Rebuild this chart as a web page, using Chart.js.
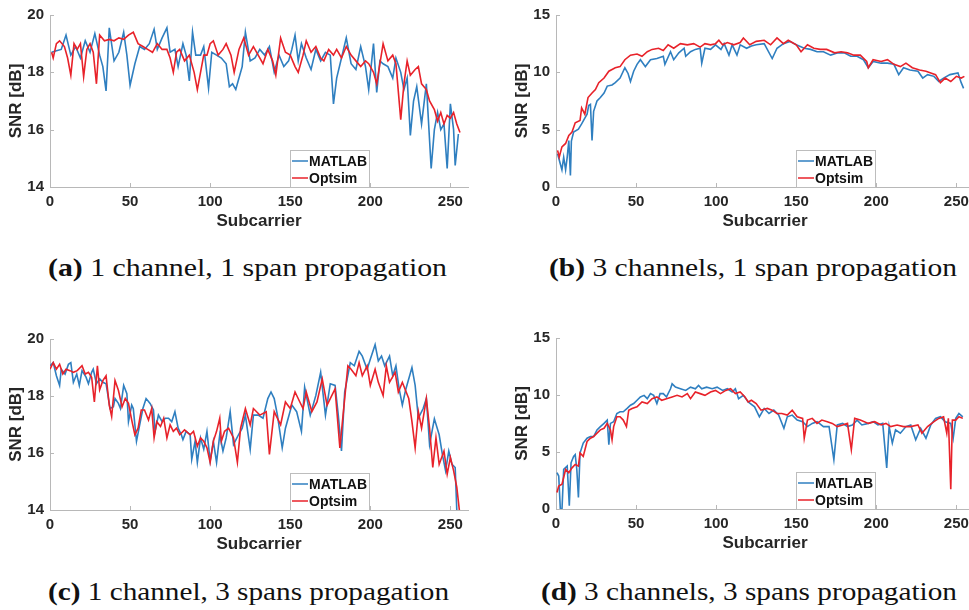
<!DOCTYPE html>
<html><head><meta charset="utf-8">
<script src="https://cdn.jsdelivr.net/npm/chart.js@4.4.0/dist/chart.umd.min.js"></script>
<style>
html,body{margin:0;padding:0;background:#fff;overflow:hidden;width:969px;height:610px;position:relative;}
canvas{position:absolute;}
.cap{position:absolute;font-family:"Liberation Serif","Times New Roman",Tinos,serif;font-size:25px;line-height:28px;color:#111;white-space:nowrap;transform-origin:0 50%;}
</style></head><body>
<canvas id="ca" width="470" height="235" style="left:0;top:0"></canvas>
<canvas id="cb" width="470" height="235" style="left:506px;top:0"></canvas>
<canvas id="cc" width="470" height="234" style="left:0;top:324px"></canvas>
<canvas id="cd" width="470" height="234" style="left:506px;top:323px"></canvas>
<div class="cap" id="capA" style="left:48px;top:254px"><b>(a)</b> 1 channel, 1 span propagation</div>
<div class="cap" id="capB" style="left:549px;top:254px"><b>(b)</b> 3 channels, 1 span propagation</div>
<div class="cap" id="capC" style="left:48px;top:578px"><b>(c)</b> 1 channel, 3 spans propagation</div>
<div class="cap" id="capD" style="left:541px;top:578px"><b>(d)</b> 3 channels, 3 spans propagation</div>
<script>
// ---- Data: [subcarrier, SNR dB] ----
const xTicks = [0, 50, 100, 150, 200, 250];
const yTicks1ch = [14, 16, 18, 20];
const yTicks3ch = [0, 5, 10, 15];

const aMatlab = [[1,18.7],[4,18.75],[7,18.8],[10,19.3],[13,18.6],[16,18.9],[19,18.5],[22,19.1],[25,18.7],[28,19.35],[31,18.6],[33,18.2],[35,17.35],[37,19.55],[40,18.4],[43,18.7],[46,19.4],[48,18.6],[50,17.55],[53,18.3],[56,18.9],[59,18.8],[62,19.0],[65,19.5],[67,18.8],[70,19.2],[73,19.55],[75,18.7],[78,18.8],[80,18.2],[83,19.0],[85,18.6],[87,17.7],[89,19.4],[91,18.6],[94,18.6],[96,18.9],[99,17.45],[101,18.7],[104,18.6],[107,18.5],[110,18.3],[112,17.5],[114,17.6],[116,17.4],[118,17.8],[120,18.2],[122,19.4],[125,18.4],[128,18.5],[131,18.8],[134,18.6],[137,18.9],[140,18.0],[143,18.6],[146,18.2],[149,18.4],[151,18.8],[153,19.3],[155,18.4],[157,19.0],[160,18.5],[163,18.1],[166,18.8],[169,18.4],[172,18.7],[175,18.6],[177,16.9],[179,17.8],[182,18.5],[185,19.2],[188,18.3],[191,18.1],[194,18.9],[197,18.2],[199,17.4],[202,19.0],[204,17.3],[206,18.4],[208,18.3],[211,18.2],[214,17.8],[216,18.5],[219,18.0],[221,17.4],[223,17.8],[225,15.8],[227,17.0],[229,17.5],[232,16.2],[235,17.6],[238,14.65],[240,16.0],[242,16.6],[244,16.0],[246,16.2],[248,14.65],[250,16.9],[252,16.0],[253,14.75],[255,15.85]];
const aOptsim = [[1,18.7],[2,18.5],[4,19.0],[6,19.1],[9,18.9],[11,18.5],[13,17.9],[15,19.0],[17,18.8],[19,19.0],[21,17.85],[23,18.8],[25,19.0],[27,18.7],[29,17.6],[31,19.3],[34,19.1],[37,19.15],[40,19.1],[43,19.2],[46,19.15],[49,19.3],[52,19.4],[55,19.0],[58,18.9],[61,18.8],[64,18.7],[67,19.0],[70,18.8],[73,18.8],[75,18.5],[77,18.0],[79,18.7],[81,18.8],[84,18.4],[87,18.6],[90,18.0],[92,17.4],[94,18.0],[96,18.6],[98,18.6],[100,19.0],[102,19.1],[105,18.6],[108,18.8],[110,19.0],[113,18.6],[115,18.0],[118,18.8],[121,19.2],[124,18.6],[127,18.9],[130,18.6],[133,18.3],[136,18.8],[139,18.4],[141,17.9],[144,19.2],[147,18.7],[150,18.6],[153,18.2],[155,18.0],[158,18.6],[160,19.1],[163,18.7],[166,18.9],[169,18.5],[171,18.4],[174,18.8],[177,18.6],[179,18.8],[182,18.5],[185,18.9],[188,18.6],[191,18.4],[194,18.2],[197,18.4],[199,18.3],[202,18.0],[204,17.6],[206,18.3],[208,19.0],[211,18.4],[214,18.6],[216,18.3],[219,16.35],[221,17.6],[223,18.4],[225,17.9],[228,18.1],[230,18.2],[232,17.6],[235,17.4],[237,17.0],[240,16.7],[242,16.3],[244,16.6],[246,16.2],[248,16.5],[250,16.4],[252,16.6],[254,16.2],[256,15.9]];

const bMatlab = [[1,2.9],[2.7,2.0],[3.7,1.5],[4.8,2.6],[6,1.5],[7,2.6],[8,4.05],[9,1.0],[9.6,4.0],[11,4.8],[14,5.05],[16,5.5],[18,6.0],[19.4,6.35],[20.4,7.1],[21.5,7.2],[22.5,4.05],[23.5,6.6],[25.6,7.5],[27.7,7.8],[30,8.2],[32,8.8],[35,8.9],[37,9.1],[40,9.5],[43,10.4],[45,9.9],[46.5,9.2],[48.5,10.1],[50.6,10.7],[52.7,11.1],[55.8,10.5],[59,11.1],[63,11.2],[67,11.4],[68,10.7],[71.5,11.8],[73.5,11.1],[76.7,11.7],[80,12.1],[81,11.4],[84,11.8],[87,12.0],[90,12.1],[91,10.8],[93,12.1],[96.5,12.0],[99.6,12.4],[103,12.0],[105,12.5],[108,11.5],[110,12.4],[113,11.5],[115,12.4],[119,12.1],[122,12.3],[125,12.4],[130,12.5],[135,11.2],[138,12.1],[142,12.5],[146,12.7],[150,12.4],[155,12.1],[159,12.0],[163,11.8],[167,11.8],[171.5,11.5],[176,11.7],[180,11.7],[184,11.4],[188,11.4],[192,11.1],[195,10.4],[198,10.95],[203,10.8],[207,10.8],[211,10.7],[214,9.8],[217,10.4],[221,10.2],[226,10.1],[229,9.5],[232,9.8],[236,9.65],[239,9.2],[242,9.5],[246,9.8],[251,9.95],[253,9.1],[254.5,8.6]];
const bOptsim = [[1,3.2],[2,2.6],[3.7,3.5],[6,3.8],[8,4.5],[10,4.8],[12,5.6],[15,5.8],[16,6.9],[18,6.35],[20,7.8],[22.5,8.2],[24.6,8.5],[26.7,9.1],[30,9.5],[33,10.1],[37,10.4],[40,10.5],[43,11.1],[46.5,11.5],[50.6,11.6],[53.7,11.4],[57,11.8],[60,12.0],[64,12.1],[67,11.9],[70,12.4],[73.5,12.1],[77.7,12.5],[82,12.4],[86,12.5],[90,12.2],[93,12.5],[96.5,12.4],[99.6,12.5],[101.7,12.8],[104,12.4],[107,12.6],[111,12.4],[115,12.6],[117,13.0],[121,12.4],[125,12.7],[130,12.8],[134,12.4],[138,13.0],[142,12.5],[145,12.8],[150,12.4],[153,11.8],[157,12.4],[161,12.1],[165,12.0],[169,12.0],[174,11.7],[178,11.8],[182,11.7],[186,11.5],[190,11.5],[194,10.95],[195,10.4],[198,11.1],[203,10.95],[207,11.1],[211,10.7],[215,10.5],[218.5,10.8],[222.5,10.4],[227,10.2],[231,10.1],[234,9.95],[237,9.8],[240,9.1],[243,9.5],[246.5,9.2],[250,9.65],[253,9.5],[255,9.65]];

const cMatlab = [[0,19.06],[2,19.17],[4,18.71],[6,18.37],[7,18.94],[9.4,18.77],[11.5,19.11],[13,19.17],[14.6,18.48],[16.7,18.77],[18.3,18.37],[20,18.89],[22.5,18.66],[24,18.43],[26,18.83],[27,18.94],[29,18.43],[31,18.6],[33,18.48],[35,18.43],[37.5,17.56],[39.6,17.62],[40.6,17.91],[42.7,17.74],[44,17.56],[46,18.37],[48,18.08],[49,17.1],[51,17.68],[52,17.56],[54,16.41],[56,16.99],[58,17.56],[60,17.91],[62.5,17.74],[64.6,17.51],[65.6,16.76],[67.7,17.33],[70,17.1],[72,17.22],[74,17.22],[76,17.1],[78,17.45],[80,16.87],[82,16.64],[83,16.47],[85,16.76],[87.5,16.64],[88.5,15.78],[90.6,16.41],[92,15.67],[94,16.53],[96,16.13],[98,16.76],[100,15.72],[102,16.41],[104,15.67],[106,16.64],[108,16.07],[110,16.53],[112.5,17.45],[114.6,16.3],[117.7,16.64],[120,16.87],[122,17.33],[125,16.13],[127,17.33],[130,17.33],[133,17.22],[136,17.91],[138,18.14],[140,17.91],[142,17.33],[145,16.18],[147,16.87],[151,17.68],[154,17.45],[157,16.76],[159,18.31],[162.5,17.33],[166,18.02],[169,18.83],[172,17.33],[175,18.43],[178,18.37],[180,17.33],[182,16.07],[184,18.14],[187.5,19.17],[190,19.06],[193,19.57],[195,19.4],[198,18.94],[200,19.29],[203,19.8],[205,19.23],[207,19.4],[209,19.06],[212,19.4],[214,18.71],[216,19.06],[218,18.25],[220,17.68],[222,18.2],[226,19.0],[228,18.37],[230,17.22],[233,17.56],[235,17.91],[237,16.3],[240,17.2],[243,16.64],[245,15.95],[247,15.38],[249,16.07],[251,15.6],[253,15.49],[254,14.0]];
const cOptsim = [[0,18.94],[2,19.17],[4,18.94],[6,19.11],[8,18.77],[10,18.94],[12.5,18.89],[14.6,18.83],[17,18.89],[20,19.06],[22,18.77],[24,18.83],[26,18.66],[27.7,17.79],[29.6,19.06],[31,18.22],[33,18.54],[35,18.71],[37,17.68],[38.5,17.28],[40.6,18.54],[42.7,18.2],[45,17.62],[47,17.91],[49,17.74],[51,17.16],[53,16.64],[55,16.87],[57,17.51],[59,17.51],[61.5,17.16],[63.5,17.56],[65,16.53],[66.7,17.1],[69,16.93],[71,17.22],[73,16.53],[75,16.99],[77,16.76],[79,16.87],[81,16.64],[84,16.81],[87.5,16.64],[89.6,16.76],[92,16.24],[94,16.53],[96,16.41],[98,16.18],[100,15.67],[102,16.41],[104,16.76],[106,17.22],[107,16.41],[109,16.76],[111.5,16.87],[114.6,16.53],[117,15.67],[119,16.87],[122,17.56],[125,16.99],[127,17.56],[131,17.33],[135,17.45],[137,15.95],[140,17.45],[144,16.99],[147,17.79],[150,17.56],[153,18.14],[156,17.79],[158,17.56],[160,18.14],[163.5,17.45],[166.7,17.79],[170,18.6],[173,17.68],[175,17.91],[178,18.25],[181,16.18],[184,17.91],[186,19.06],[188,18.94],[191,18.71],[193,19.17],[195,18.71],[198,19.06],[200,18.37],[203,18.94],[205,18.48],[208,18.02],[210,19.06],[212,18.48],[215.5,18.83],[217.5,18.14],[220,18.48],[224,17.91],[226,17.1],[228,16.18],[230,17.45],[232,16.87],[235,17.91],[237,16.87],[239,15.49],[241,16.53],[243,15.6],[246,16.07],[248,15.26],[250,15.84],[252,15.38],[254,14.8],[255.6,14.0]];

const dMatlab = [[0.6,3.18],[1.7,2.89],[2.7,0],[3.75,0],[4.8,3.47],[7,3.76],[8.3,0.29],[9.4,4.05],[11,4.62],[12,4.77],[13,3.47],[14,1.01],[15,4.91],[17,5.78],[19.4,6.21],[21.5,6.36],[23.5,6.36],[25.6,6.94],[27.7,7.23],[30,7.51],[32,7.8],[33,5.64],[34,7.51],[36,7.66],[38,8.38],[40,8.53],[42,8.53],[44.4,8.82],[46.5,9.1],[48.5,9.25],[50.6,9.54],[52.7,9.83],[55,9.97],[57,9.68],[59,10.12],[61,9.97],[63,9.25],[65,10.12],[67,10.12],[69,9.83],[71.5,10.55],[72.5,10.98],[74.6,10.69],[77.7,10.55],[81,10.4],[84,10.69],[87,10.55],[89,10.84],[91,10.55],[94,10.69],[97.5,10.55],[100.6,10.69],[104,10.4],[107,10.55],[110,10.26],[112,10.55],[114,9.68],[117,9.97],[120,9.39],[124,8.96],[127,8.09],[130,8.82],[133,8.38],[136,8.67],[139,8.24],[142.3,7.08],[144.4,8.09],[147.5,8.24],[150.6,7.8],[154,7.66],[157,7.23],[160,7.51],[163,7.66],[167,7.23],[170.5,7.23],[173.5,4.34],[175.6,7.37],[179,7.51],[182,7.23],[185,7.37],[188,7.8],[191,7.37],[195,7.51],[198,7.66],[201,7.37],[204,7.51],[206.5,3.61],[208,7.23],[210,5.78],[212,6.94],[215,6.65],[218.5,7.23],[221.5,7.37],[224.6,6.07],[227.7,7.08],[231,6.21],[234,7.37],[237,7.95],[240,8.09],[243,7.66],[246.5,7.51],[248,6.21],[249.6,7.95],[251.6,8.38],[254,8.09]];
const dOptsim = [[0.6,1.45],[1.7,2.02],[3.75,2.17],[6,3.47],[8,3.18],[10,3.61],[12,3.9],[14,3.76],[15,4.91],[17,4.62],[19.4,5.92],[21.5,6.21],[23.5,6.36],[25.6,6.65],[27.7,6.94],[30,7.08],[32,7.51],[34,6.94],[35,6.07],[36,7.23],[38,8.09],[40,8.09],[42,7.8],[44,7.23],[45.4,8.67],[47.5,8.82],[50.6,8.96],[53.7,9.39],[57,9.25],[60,9.68],[63,9.83],[66,9.54],[69,9.68],[72.5,9.83],[75.6,9.97],[78.7,9.83],[82,10.12],[84,9.68],[87,10.26],[90,10.12],[93,9.97],[96.5,10.26],[99.6,10.4],[102.7,10.12],[106,10.4],[109,10.55],[112,10.12],[115,10.26],[118,9.83],[120,9.39],[122,9.54],[125,9.25],[128,8.67],[132,8.82],[135,8.67],[138,8.38],[141,8.38],[144.4,8.24],[147.5,8.67],[150.6,8.09],[154,7.95],[155,6.21],[157,7.8],[160,7.95],[163,7.51],[166,7.8],[169.4,7.66],[172.5,7.51],[175.6,7.23],[179,7.37],[182,7.51],[184.4,5.2],[186.5,7.95],[190,7.8],[195,7.51],[199,7.66],[203,7.37],[206,7.51],[209,7.23],[213,7.37],[217,7.23],[221.5,7.23],[226,7.37],[228.5,6.65],[232,7.23],[236,7.66],[239,7.95],[242,8.09],[244,6.65],[245,7.95],[246.5,1.73],[247.5,7.8],[249.6,7.8],[251.6,8.09],[254,7.95]];

// ---- Styling ----
const BLUE = '#2f7fc0';
const RED = '#e8222a';
const AXIS = '#b8b8b8';
const TXT = '#262626';
const SANS = '"Liberation Sans", Arial, Helvetica, sans-serif';

// inward tick marks (MATLAB style)
const inwardTicks = {
  id: 'inwardTicks',
  afterDatasetsDraw(chart) {
    const ctx = chart.ctx, ca = chart.chartArea, sx = chart.scales.x, sy = chart.scales.y;
    ctx.save();
    ctx.strokeStyle = AXIS; ctx.lineWidth = 1;
    ctx.beginPath();
    sx.ticks.forEach(t => { const px = Math.round(sx.getPixelForValue(t.value)) + 0.5; ctx.moveTo(px, ca.bottom); ctx.lineTo(px, ca.bottom - 4); });
    sy.ticks.forEach(t => { const py = Math.round(sy.getPixelForValue(t.value)) + 0.5; ctx.moveTo(ca.left, py); ctx.lineTo(ca.left + 4, py); });
    ctx.stroke();
    ctx.restore();
  }
};

const boxLegend = {
  id: 'boxLegend',
  afterDatasetsDraw(chart) {
    const ctx = chart.ctx, ca = chart.chartArea;
    const x = Math.round(ca.left + 240), y = Math.round(ca.bottom - 37), w = 79, h = 37;
    ctx.save();
    ctx.fillStyle = '#fff';
    ctx.fillRect(x, y, w, h);
    ctx.strokeStyle = '#bdbdbd';
    ctx.lineWidth = 1;
    ctx.strokeRect(x + 0.5, y + 0.5, w, h);
    chart.data.datasets.forEach((ds, i) => {
      const ly = y + 11 + i * 17;
      ctx.strokeStyle = ds.borderColor;
      ctx.lineWidth = 1.5;
      ctx.beginPath(); ctx.moveTo(x + 2, ly); ctx.lineTo(x + 18, ly); ctx.stroke();
      ctx.fillStyle = '#111';
      ctx.font = 'bold 14px ' + SANS;
      ctx.textBaseline = 'middle';
      ctx.textAlign = 'left';
      ctx.fillText(ds.label, x + 19, ly + 1);
    });
    ctx.restore();
  }
};

function toXY(arr) { return arr.map(p => ({ x: p[0], y: p[1] })); }

function makeChart(id, matlab, optsim, yMin, yMax, yTicks, padTop) {
  return new Chart(document.getElementById(id), {
    type: 'line',
    data: {
      datasets: [
        { label: 'MATLAB', data: toXY(matlab), borderColor: BLUE, borderWidth: 1.6, pointRadius: 0, tension: 0, fill: false, order: 1 },
        { label: 'Optsim', data: toXY(optsim), borderColor: RED, borderWidth: 1.6, pointRadius: 0, tension: 0, fill: false, order: 0 }
      ]
    },
    options: {
      responsive: false, animation: false, devicePixelRatio: 1,
      layout: { padding: { top: padTop, right: 2, left: 0, bottom: 0 } },
      plugins: { legend: { display: false }, tooltip: { enabled: false } },
      scales: {
        x: {
          type: 'linear', min: 0, max: 261,
          afterBuildTicks: s => { s.ticks = xTicks.map(v => ({ value: v })); },
          afterFit: s => { s.height = 48; },
          grid: { display: false, drawTicks: false },
          border: { display: true, color: AXIS, width: 1 },
          ticks: { color: TXT, font: { family: SANS, size: 15, weight: 'bold' }, padding: 6, maxRotation: 0, autoSkip: false },
          title: { display: true, text: 'Subcarrier', color: TXT, font: { family: SANS, size: 17, weight: 'bold' }, padding: { top: 0, bottom: 3 } }
        },
        y: {
          type: 'linear', min: yMin, max: yMax,
          afterBuildTicks: s => { s.ticks = yTicks.map(v => ({ value: v })); },
          afterFit: s => { s.width = 50; },
          grid: { display: false, drawTicks: false },
          border: { display: true, color: AXIS, width: 1 },
          ticks: { color: TXT, font: { family: SANS, size: 15, weight: 'bold' }, padding: 6, autoSkip: false },
          title: { display: true, text: 'SNR [dB]', color: TXT, font: { family: SANS, size: 17, weight: 'bold' }, padding: { top: 6, bottom: 0 } }
        }
      }
    },
    plugins: [inwardTicks, boxLegend]
  });
}

makeChart('ca', aMatlab, aOptsim, 14, 20, yTicks1ch, 12);
makeChart('cb', bMatlab, bOptsim, 0, 15, yTicks3ch, 13);
makeChart('cc', cMatlab, cOptsim, 14, 20, yTicks1ch, 12);
makeChart('cd', dMatlab, dOptsim, 0, 15, yTicks3ch, 14);

// fit captions to their measured widths in the reference
const capWidths = { capA: 399, capB: 408, capC: 401, capD: 416 };
Object.keys(capWidths).forEach(id => {
  const el = document.getElementById(id);
  const w = el.getBoundingClientRect().width;
  el.style.transform = 'scaleX(' + (capWidths[id] / w) + ')';
});
</script>
</body></html>
